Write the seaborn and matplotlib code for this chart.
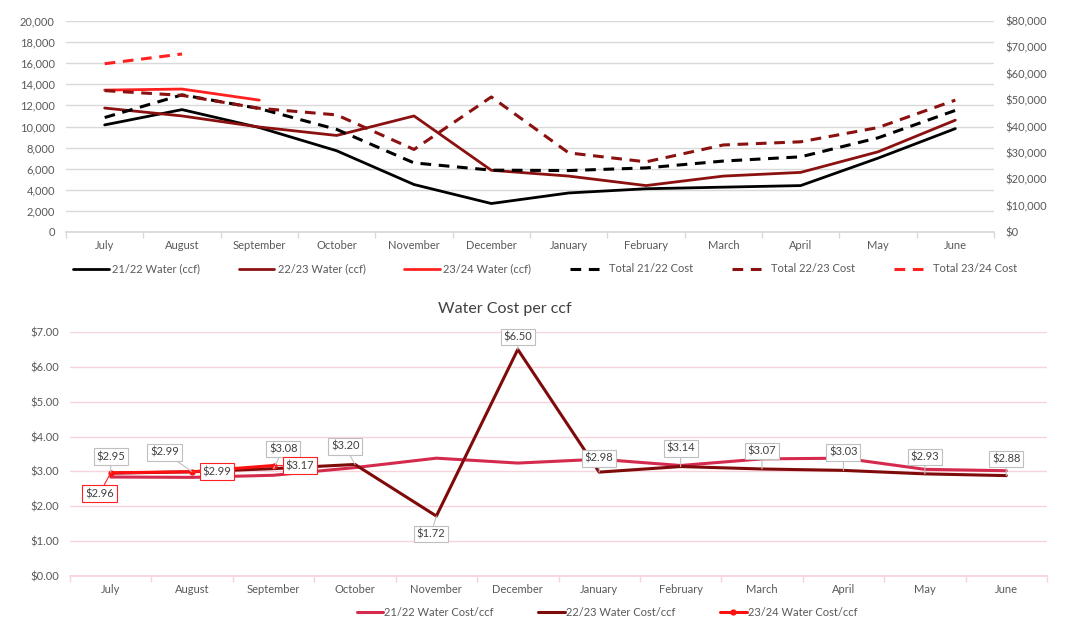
import numpy as np
import matplotlib
matplotlib.use("Agg")
import matplotlib.pyplot as plt
import matplotlib.ticker as mticker
import seaborn as sns

months = ["July", "August", "September", "October", "November", "December",
          "January", "February", "March", "April", "May", "June"]

water_2122 = [10150, 11600, 9900, 7700, 4500, 2700, 3700, 4100, 4250, 4400, 7000, 9800]
water_2223 = [11750, 11000, 9950, 9150, 11000, 5850, 5300, 4400, 5300, 5650, 7600, 10600]
water_2324 = [13450, 13550, 12500]

cost_2122 = [43400, 52000, 46800, 38900, 26200, 23450, 23300, 24300, 26900, 28500, 35700, 46100]
cost_2223 = [53600, 51800, 46900, 44400, 31300, 51200, 30000, 26600, 33000, 34200, 39600, 50000]
cost_2324 = [63800, 67500]

ccf_2122 = [2.84, 2.83, 2.89, 3.11, 3.38, 3.24, 3.35, 3.17, 3.36, 3.38, 3.06, 3.02]
ccf_2223 = [2.95, 2.99, 3.08, 3.20, 1.72, 6.50, 2.98, 3.14, 3.07, 3.03, 2.93, 2.88]
ccf_2324 = [2.96, 2.99, 3.17]

sns.set_theme(style="white")
plt.rcParams["font.family"] = ["Lato", "DejaVu Sans"]
TXT = "#595959"

fig = plt.figure(figsize=(10.7, 6.35), dpi=100)

BLACK = "#000000"
DRED = "#8B1010"
RED = "#FF2020"
DASH = (0, (3.5, 2.5))

# ---------------- Top chart ----------------
ax = fig.add_axes([66/1070, 1-232/635, (994-66)/1070, (232-21)/635])
ax2 = ax.twinx()
x = np.arange(len(months))

sns.lineplot(x=x, y=water_2122, ax=ax, color=BLACK, lw=2, sort=False, label="21/22 Water (ccf)", legend=False)
sns.lineplot(x=x, y=water_2223, ax=ax, color=DRED, lw=2, sort=False, label="22/23 Water (ccf)", legend=False)
sns.lineplot(x=x[:len(water_2324)], y=water_2324, ax=ax, color=RED, lw=2, sort=False, label="23/24 Water (ccf)", legend=False)
sns.lineplot(x=x, y=cost_2122, ax=ax2, color=BLACK, lw=2.2, linestyle=DASH, sort=False, label="Total 21/22 Cost", legend=False)
sns.lineplot(x=x, y=cost_2223, ax=ax2, color=DRED, lw=2.2, linestyle=DASH, sort=False, label="Total 22/23 Cost", legend=False)
sns.lineplot(x=x[:len(cost_2324)], y=cost_2324, ax=ax2, color=RED, lw=2.2, linestyle=DASH, sort=False, label="Total 23/24 Cost", legend=False)

ax.set_xlim(-0.5, 11.5)
ax.set_ylim(0, 20000)
ax2.set_ylim(0, 80000)
ax.set_yticks(np.arange(0, 20001, 2000))
ax2.set_yticks(np.arange(0, 80001, 10000))
ax.yaxis.set_major_formatter(mticker.FuncFormatter(lambda v, p: f"{v:,.0f}"))
ax2.yaxis.set_major_formatter(mticker.FuncFormatter(lambda v, p: f"${v:,.0f}"))
ax.set_xticks(x)
ax.set_xticklabels(months)
ax.set_xticks(np.arange(-0.5, 12, 1), minor=True)
ax.grid(axis="y", color="#D9D9D9", lw=1)
ax.set_axisbelow(True)
for a in (ax, ax2):
    for s in a.spines.values():
        s.set_visible(False)
ax.spines["bottom"].set_visible(True)
ax.spines["bottom"].set_color("#D9D9D9")
ax.tick_params(axis="x", which="major", length=0, pad=6, labelsize=8, labelcolor=TXT)
ax.tick_params(axis="x", which="minor", length=4, color="#D9D9D9", bottom=True)
ax.tick_params(axis="y", length=0, labelsize=8, labelcolor=TXT, pad=8)
ax2.tick_params(axis="y", length=0, labelsize=8, labelcolor=TXT, pad=8)
ax.set_xlabel("")

h1, l1 = ax.get_legend_handles_labels()
h2, l2 = ax2.get_legend_handles_labels()
fig.legend(h1 + h2, l1 + l2, loc="center", bbox_to_anchor=(545/1070, 1-269/635), ncol=6,
           frameon=False, fontsize=8, labelcolor=TXT, handlelength=3.2, columnspacing=3.5,
           handletextpad=0.3)

# ---------------- Bottom chart ----------------
bx = fig.add_axes([70/1070, 1-576/635, (1047-70)/1070, (576-332)/635])
sns.lineplot(x=x, y=ccf_2122, ax=bx, color="#D42A4E", lw=2.2, sort=False, label="21/22 Water Cost/ccf", legend=False)
sns.lineplot(x=x, y=ccf_2223, ax=bx, color="#7F0A0A", lw=2.2, sort=False, label="22/23 Water Cost/ccf", legend=False)
sns.lineplot(x=x[:len(ccf_2324)], y=ccf_2324, ax=bx, color="#FF1010", lw=2.2, sort=False,
             marker="o", markersize=4.5, markeredgewidth=0, label="23/24 Water Cost/ccf", legend=False)

bx.set_xlim(-0.5, 11.5)
bx.set_ylim(0, 7)
bx.set_yticks(np.arange(0, 7.01, 1))
bx.yaxis.set_major_formatter(mticker.FuncFormatter(lambda v, p: f"${v:.2f}"))
bx.set_xticks(x)
bx.set_xticklabels(months)
bx.set_xticks(np.arange(-0.5, 12, 1), minor=True)
bx.grid(axis="y", color="#F9D3DC", lw=1)
bx.set_axisbelow(True)
for s in bx.spines.values():
    s.set_visible(False)
bx.spines["bottom"].set_visible(True)
bx.spines["bottom"].set_color("#F9D3DC")
bx.tick_params(axis="x", which="major", length=0, pad=6, labelsize=8, labelcolor=TXT)
bx.tick_params(axis="x", which="minor", length=4, color="#F9D3DC", bottom=True)
bx.tick_params(axis="y", length=0, labelsize=8, labelcolor=TXT, pad=8)
bx.set_title("Water Cost per ccf", fontsize=11.5, color="#404040", pad=14, x=0.445)

# data labels for 22/23 (grey callouts)
offs_2223 = [(0, 12), (-20, 14), (7, 14), (-7, 13), (-4, -13), (0, 9),
             (0, 10), (0, 13), (0, 13), (0, 13), (0, 12), (0, 12)]
for i, v in enumerate(ccf_2223):
    bx.annotate(f"${v:.2f}", xy=(i, v), xytext=offs_2223[i], textcoords="offset points",
                ha="center", va="center", fontsize=8, color="#404040",
                bbox=dict(boxstyle="square,pad=0.25", fc="white", ec="#BFBFBF", lw=0.8),
                arrowprops=dict(arrowstyle="-", color="#BFBFBF", lw=0.8, shrinkA=0, shrinkB=0),
                zorder=5)

offs_2324 = [(-8, -15), (18, 0), (19, 0)]
for i, v in enumerate(ccf_2324):
    bx.annotate(f"${v:.2f}", xy=(i, v), xytext=offs_2324[i], textcoords="offset points",
                ha="center", va="center", fontsize=8, color="#404040",
                bbox=dict(boxstyle="square,pad=0.25", fc="white", ec="#FF2020", lw=0.8),
                arrowprops=dict(arrowstyle="-", color="#FF2020", lw=0.8, shrinkA=0, shrinkB=0),
                zorder=6)

hb, lb = bx.get_legend_handles_labels()
fig.legend(hb, lb, loc="center", bbox_to_anchor=(607/1070, 1-612/635), ncol=3,
           frameon=False, fontsize=8, labelcolor=TXT, handlelength=2.4, columnspacing=4.0,
           handletextpad=0.1)

fig.savefig("out.png", dpi=100)
